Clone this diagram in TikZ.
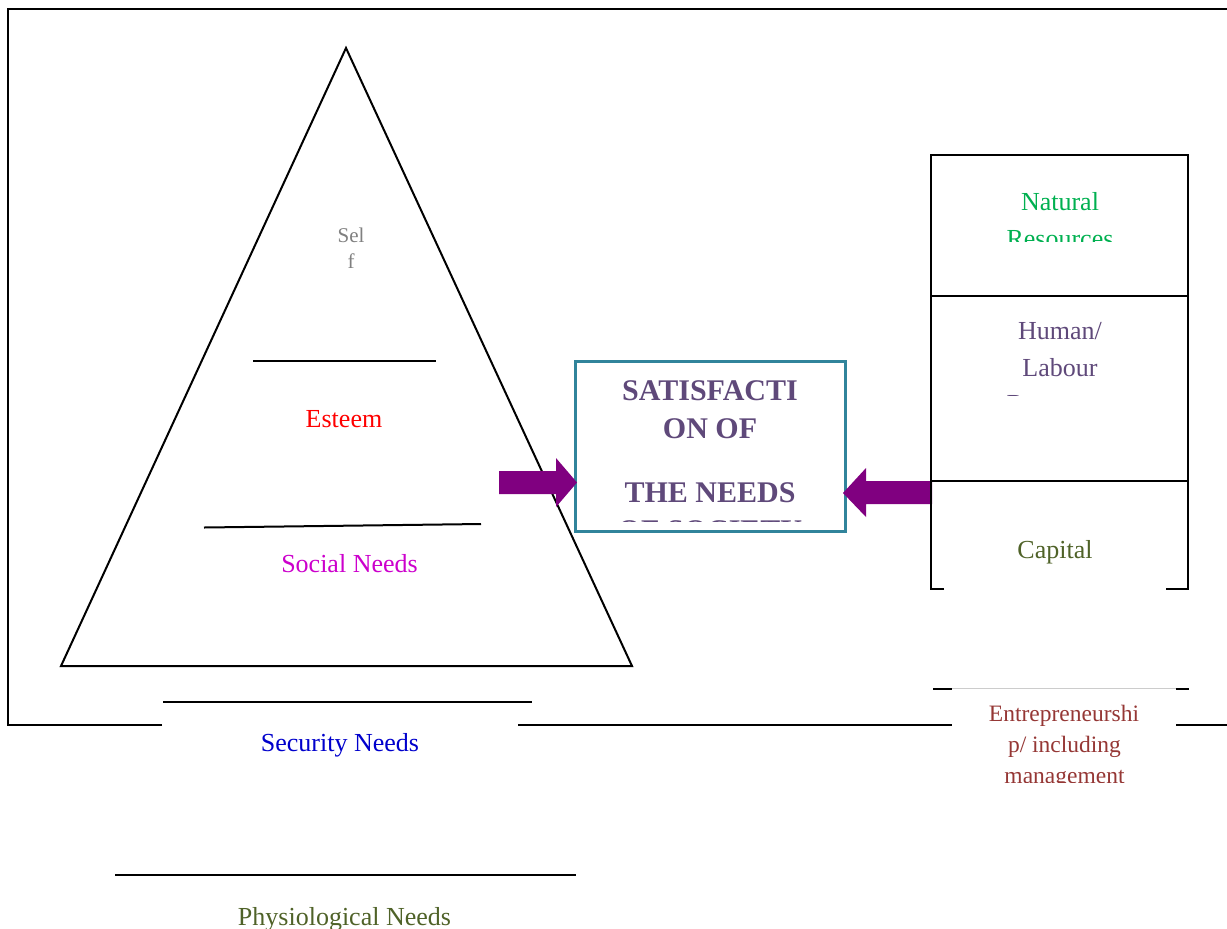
\documentclass[tikz,border=0pt]{standalone}
\usepackage{fontspec}
\setmainfont{Liberation Serif}
\definecolor{selfgray}{HTML}{808080}
\definecolor{socialmag}{HTML}{CC00CC}
\definecolor{secblue}{HTML}{0000CC}
\definecolor{olive}{HTML}{4F6228}
\definecolor{natgreen}{HTML}{00B050}
\definecolor{needpurple}{HTML}{5F497A}
\definecolor{entred}{HTML}{953735}
\definecolor{arrowpurple}{HTML}{800080}
\definecolor{boxteal}{HTML}{31849B}
\begin{document}
\begin{tikzpicture}[x=0.5pt,y=-0.5pt,
  ln/.style={line width=1pt, draw=black},
  txt/.style={anchor=base, inner sep=0pt, font=\fontsize{13}{15}\selectfont},
  smalltxt/.style={anchor=base, inner sep=0pt, font=\fontsize{11.75}{14}\selectfont},
  boldtxt/.style={anchor=base, inner sep=0pt, font=\fontsize{15}{17}\selectfont\bfseries, text=needpurple},
  blockarrow/.style={fill=arrowpurple, draw=none}]
\useasboundingbox (0,0) rectangle (1227,928);

% outer frame
\draw[ln] (162,725) -- (8,725) -- (8,9) -- (1227,9);
\draw[ln] (518,725) -- (952,725);
\draw[ln] (1176,725) -- (1227,725);

% pyramid
\draw[line width=1pt, line join=miter] (346,48) -- (632,666) -- (61,666) -- cycle;
\draw[ln] (253,361) -- (436,361);
\draw[ln] (204,527.5) -- (481,524);
\draw[ln] (163,702) -- (532,702);
\draw[ln] (115,875) -- (576,875);

% pyramid labels
\begin{scope}[font=\fontsize{10.5}{12}\selectfont]
\node[anchor=base, inner sep=0pt, text=selfgray] (self1) at (351,242) {Sel};
\node[anchor=base, inner sep=0pt, text=selfgray] (self2) at (351,268) {f};
\end{scope}
\node[txt, text=red] (esteem) at (344,427) {Esteem};
\node[txt, text=socialmag] (social) at (349.5,572) {Social Needs};
\node[txt, text=secblue] (security) at (340,751) {Security Needs};
\node[txt, text=olive] (physio) at (344.5,925) {Physiological Needs};

% central box
\node[draw=boxteal, line width=1.5pt, minimum width=135pt, minimum height=85pt, inner sep=0pt] (sat) at (710,446) {};
\begin{scope}
\clip (577,362) rectangle (843,521);
\node[boldtxt] (sat1) at (710,400) {SATISFACTI};
\node[boldtxt] (sat2) at (710,438) {ON OF};
\node[boldtxt] (sat3) at (710,502) {THE NEEDS};
\node[boldtxt] (sat4) at (710,540.5) {OF SOCIETY};
\end{scope}

% arrows
\fill[blockarrow] (499,471) -- (556,471) -- (556,458) -- (577,482.5) -- (556,507) -- (556,494) -- (499,494) -- cycle;
\fill[blockarrow] (932,481) -- (866,481) -- (866,468) -- (843,493) -- (866,517) -- (866,504) -- (932,504) -- cycle;

% factors column
\draw[ln] (944,589) -- (931,589) -- (931,155) -- (1188,155) -- (1188,589) -- (1166,589);
\draw[ln] (931,295.5) -- (1188,295.5);
\draw[ln] (931,480.5) -- (1188,480.5);

\begin{scope}
\clip (932,156) rectangle (1187,241);
\node[txt, text=natgreen] (nat1) at (1060,210) {Natural};
\node[txt, text=natgreen] (nat2) at (1060,247) {Resources};
\end{scope}
\begin{scope}
\clip (932,297) rectangle (1187,395);
\node[txt, text=needpurple] (hum1) at (1060,339) {Human/};
\node[txt, text=needpurple] (hum2) at (1060,376) {Labour};
\node[txt, text=needpurple] (hum3) at (1060,412) {Resources};
\end{scope}
\node[txt, text=olive] (capital) at (1055,558) {Capital};

% entrepreneurship
\draw[ln] (933,688.5) -- (952,688.5);
\draw[ln] (1176,688.5) -- (1189,688.5);
\draw[line width=0.5pt, draw=black!20] (952,688.5) -- (1176,688.5);
\begin{scope}
\clip (952,690) rectangle (1176,782);
\node[smalltxt, text=entred] (ent1) at (1064,721) {Entrepreneurshi};
\node[smalltxt, text=entred] (ent2) at (1064.5,752) {p/ including};
\node[smalltxt, text=entred] (ent3) at (1064.5,783) {management};
\end{scope}
\end{tikzpicture}
\end{document}
